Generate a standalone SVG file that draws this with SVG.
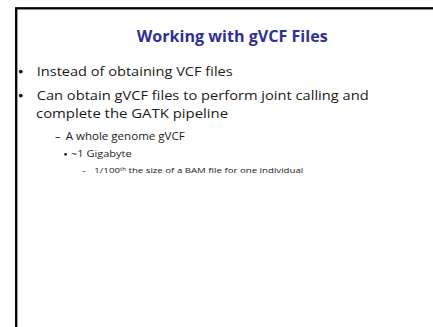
<svg xmlns="http://www.w3.org/2000/svg" width="433" height="327" viewBox="0 0 433 327">
  <style>
    .title { font-family: "Open Sans", "Noto Sans", sans-serif; font-weight: bold; fill: #2E3192; }
    .body { font-family: "Open Sans", "Noto Sans", sans-serif; fill: #1a1a1a; }
  </style>
  <rect width="433" height="327" fill="#ffffff"/>
  <!-- slide frame, running off the right and bottom edges -->
  <rect x="16.2" y="8.3" width="440" height="340" fill="none" stroke="#000000" stroke-width="2.3"/>

  <g id="title">
    <text class="title" x="136.7" y="41.5" font-size="15.5" textLength="191" lengthAdjust="spacingAndGlyphs">Working with gVCF Files</text>
  </g>

  <g id="bullets">
    <circle cx="20.8" cy="71.6" r="1.9" fill="#1a1a1a"/>
    <text class="body" x="36.7" y="76" font-size="13" textLength="196" lengthAdjust="spacingAndGlyphs">Instead of obtaining VCF files</text>

    <circle cx="20.8" cy="95.6" r="1.9" fill="#1a1a1a"/>
    <text class="body" x="36.7" y="100" font-size="13" textLength="332" lengthAdjust="spacingAndGlyphs">Can obtain gVCF files to perform joint calling and</text>
    <text class="body" x="36" y="118.3" font-size="13" textLength="192" lengthAdjust="spacingAndGlyphs">complete the GATK pipeline</text>

    <text class="body" x="55" y="140" font-size="11">–</text>
    <text class="body" x="65.7" y="140" font-size="11" textLength="119" lengthAdjust="spacingAndGlyphs">A whole genome gVCF</text>

    <circle cx="65.6" cy="154.3" r="1.4" fill="#1a1a1a"/>
    <text class="body" x="71" y="157.3" font-size="9.5" textLength="60.7" lengthAdjust="spacingAndGlyphs">~1 Gigabyte</text>

    <text class="body" x="81.7" y="173.3" font-size="7.5">–</text>
    <text class="body" x="94.3" y="173.3" font-size="7.5" textLength="209" lengthAdjust="spacingAndGlyphs">1/100<tspan font-size="4.8" dy="-2.8">th</tspan><tspan dy="2.8"> the size of a BAM file for one individual</tspan></text>
  </g>
</svg>
